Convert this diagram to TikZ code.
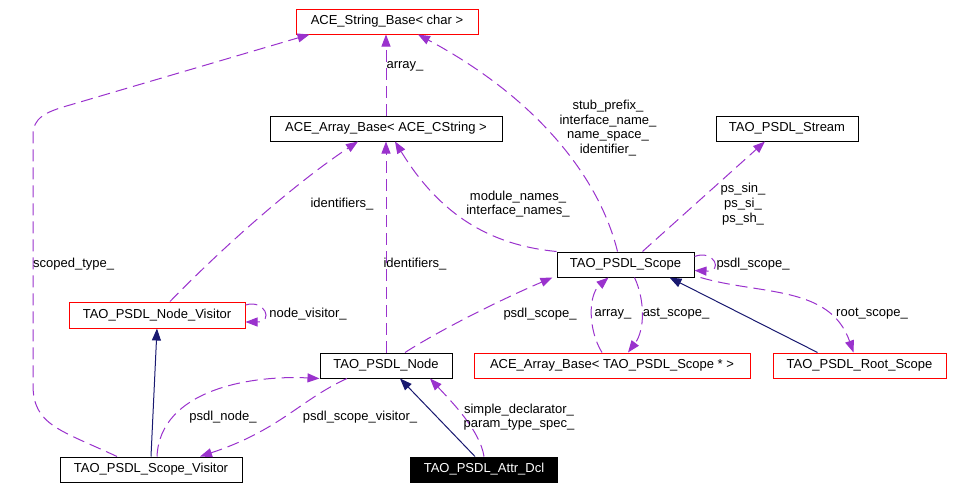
\documentclass[tikz,border=0pt]{standalone}
\usepackage{fontspec}
\setmainfont{Liberation Sans}
\usetikzlibrary{arrows.meta}
\definecolor{usecol}{HTML}{9A32CD}
\definecolor{inhcol}{HTML}{191970}
\tikzset{
  cls/.style={draw=black, line width=1pt, minimum height=25pt, inner sep=0pt, font=\fontsize{13}{14.7}\selectfont},
  clsred/.style={cls, draw=red},
  clsmain/.style={cls, fill=black, text=white},
  uses/.style={draw=usecol, line width=1pt, dash pattern=on 12pt off 6pt, -{Triangle[length=12pt,width=9pt,fill=usecol]}},
  inherits/.style={draw=inhcol, line width=1pt, -{Triangle[length=12pt,width=9pt,fill=inhcol]}},
  lbl/.style={align=center, inner sep=0pt, font=\fontsize{13}{14.7}\selectfont}
}
\begin{document}
\begin{tikzpicture}[x=1pt, y=-1pt]
\useasboundingbox (0,0) rectangle (954,490);
\node[clsred, minimum width=182pt] (strbase) at (387,21.5) {ACE\_String\_Base< char >};
\node[cls, minimum width=232pt] (arrcstr) at (386,128.5) {ACE\_Array\_Base< ACE\_CString >};
\node[cls, minimum width=142pt] (stream) at (787,128.5) {TAO\_PSDL\_Stream};
\node[cls, minimum width=137pt] (scope) at (625.5,264.5) {TAO\_PSDL\_Scope};
\node[clsred, minimum width=176pt, minimum height=26pt] (nodevis) at (157,315) {TAO\_PSDL\_Node\_Visitor};
\node[cls, minimum width=132pt] (psdlnode) at (386,365.5) {TAO\_PSDL\_Node};
\node[clsred, minimum width=276pt] (arrscope) at (612,365.5) {ACE\_Array\_Base< TAO\_PSDL\_Scope * >};
\node[clsred, minimum width=173pt] (rootscope) at (859.5,365.5) {TAO\_PSDL\_Root\_Scope};
\node[cls, minimum width=182pt] (scopevis) at (151,469.5) {TAO\_PSDL\_Scope\_Visitor};
\node[clsmain, minimum width=147pt] (attrdcl) at (484,469.5) {TAO\_PSDL\_Attr\_Dcl};
\draw[uses] ([xshift=-34pt]scopevis.north) .. controls (60,430) and (33,425) .. (33,385) -- (33,135) .. controls (33,118) and (45,112) .. (70,105) -- ([xshift=14pt]strbase.south west);
\draw[uses] (arrcstr.north) -- (arrcstr.north |- strbase.south);
\draw[uses] ([xshift=-8pt]scope.north) .. controls (600,180) and (540,100) .. ([xshift=31pt]strbase.south);
\draw[uses] ([xshift=13pt]nodevis.north) .. controls (230,240) and (300,180) .. ([xshift=-28pt]arrcstr.south);
\draw[uses] (psdlnode.north) -- (arrcstr.south);
\draw[uses] (scope.north west) .. controls (490,245) and (440,215) .. ([xshift=9pt]arrcstr.south);
\draw[uses] ([xshift=17pt]scope.north) -- ([xshift=-22pt]stream.south);
\draw[uses] ([yshift=8pt]scope.east) .. controls (714,249) and (724,272) .. ([yshift=-6pt]scope.east);
\draw[uses] ([yshift=10pt]nodevis.east) .. controls (265,299) and (274,322) .. ([yshift=-7pt]nodevis.east);
\draw[inherits] (scopevis.north) -- (nodevis.south);
\draw[uses] ([xshift=6pt]scopevis.north) .. controls (160,390) and (250,375) .. (psdlnode.south west);
\draw[uses] ([xshift=-39pt]psdlnode.south) .. controls (300,400) and (280,430) .. ([xshift=49pt]scopevis.north);
\draw[uses] ([xshift=19pt]psdlnode.north) .. controls (440,330) and (500,300) .. ([xshift=-4pt]scope.south west);
\draw[uses] ([xshift=-10pt]arrscope.north) .. controls (588,330) and (588,295) .. ([xshift=-17pt]scope.south);
\draw[uses] ([xshift=9pt]scope.south) .. controls (645,300) and (645,330) .. ([xshift=16pt]arrscope.north);
\draw[inherits] ([xshift=-42pt]rootscope.north) -- ([xshift=44pt]scope.south);
\draw[uses] ([xshift=75pt]scope.south) .. controls (760,295) and (830,285) .. ([xshift=-6pt]rootscope.north);
\draw[inherits] ([xshift=-9pt]attrdcl.north) -- ([xshift=14pt]psdlnode.south);
\draw[uses] (attrdcl.north) .. controls (480,430) and (450,400) .. ([xshift=44pt]psdlnode.south);
\node[lbl, anchor=west] (lscoped) at (33,264) {scoped\_type\_};
\node[lbl] (larray) at (405,66) {array\_};
\node[lbl] (lstub) at (608,128) {stub\_prefix\_\\interface\_name\_\\name\_space\_\\identifier\_};
\node[lbl] (lidvis) at (342,204) {identifiers\_};
\node[lbl] (lidnode) at (415,264) {identifiers\_};
\node[lbl] (lmodule) at (518,204) {module\_names\_\\interface\_names\_};
\node[lbl] (lps) at (743,204) {ps\_sin\_\\ps\_si\_\\ps\_sh\_};
\node[lbl] (lselfscope) at (753,264) {psdl\_scope\_};
\node[lbl] (lnodevis) at (308,314) {node\_visitor\_};
\node[lbl] (lpsdlnode) at (223,417) {psdl\_node\_};
\node[lbl] (lscopevis) at (360,417) {psdl\_scope\_visitor\_};
\node[lbl] (lpsdlscope) at (540,314) {psdl\_scope\_};
\node[lbl] (larrscope) at (613,314) {array\_};
\node[lbl] (last) at (676,314) {ast\_scope\_};
\node[lbl] (lroot) at (872,314) {root\_scope\_};
\node[lbl] (lsimple) at (519,417) {simple\_declarator\_\\param\_type\_spec\_};
\end{tikzpicture}
\end{document}
